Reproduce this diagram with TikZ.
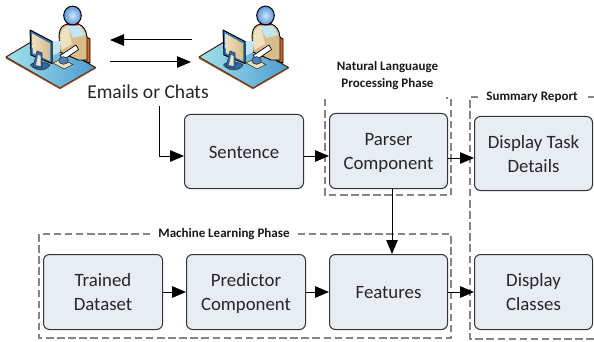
\documentclass[tikz,border=0pt]{standalone}
\usepackage{fontspec}
\setmainfont{Carlito}
\usetikzlibrary{arrows.meta}
\definecolor{boxfill}{HTML}{E8EDF4}
\definecolor{boxline}{HTML}{333333}
\definecolor{dashgray}{HTML}{858585}
\definecolor{deskA}{HTML}{A0E2EC}
\definecolor{deskB}{HTML}{4E9CCF}
\definecolor{tanA}{HTML}{EFE0C0}
\definecolor{tanB}{HTML}{D8BC8A}
\definecolor{headA}{HTML}{CFE5F8}
\definecolor{headB}{HTML}{5C96D8}
\definecolor{sideor}{HTML}{D4682C}
\definecolor{skyb}{HTML}{BFE6F2}
\definecolor{monb}{HTML}{2E6AA8}
\newcommand\boxlines[1]{\raisebox{-1.8pt}[\height][\depth]{\begin{tabular}{@{}c@{}}#1\end{tabular}}}
\tikzset{
  x=1pt,y=-1pt,
  flowbox/.style={draw=boxline,fill=boxfill,line width=1pt,rounded corners=6pt,
     font=\fontsize{18.8}{24}\selectfont,text=black!85,inner sep=0pt,anchor=north west},
  flow/.style={-{Triangle[length=14pt,width=11.5pt]},line width=1pt,draw=black},
  phase/.style={dashgray,line width=2.4pt,dash pattern=on 7.5pt off 3.6pt},
  phaselabel/.style={font=\bfseries\fontsize{13}{17}\selectfont,align=center,inner sep=0pt,text=black!90},
  ol/.style={draw=black,line width=0.9pt,line join=round},
  pics/worker/.style={code={
    % desk
    \path[draw=black!70!sideor,line width=1pt,line join=round,left color=deskA,right color=deskB]
       (6,57) -- (41,36) -- (95.5,67.5) -- (60,88) -- cycle;
    \draw[sideor!70!black,line width=1.1pt] (6,58) -- (60,88.6) -- (95.5,68);
    % chair back
    \path[ol,fill=sideor] (85,36) -- (90,39) -- (90,63) -- (84,61) -- cycle;
    % torso
    \path[ol,fill=tanB] (59,35) .. controls (60,28) and (62,25) .. (68,24) -- (78,24)
       .. controls (84,26) and (86,30) .. (87,37) -- (87,60) -- (78,60) -- (60,52) -- cycle;
    \path[fill=tanA] (60.5,36) .. controls (61,30) and (64,27) .. (68,26) -- (72,44) -- (61,50) -- cycle;
    \path[fill=skyb] (67,25.5) -- (79,25.5) .. controls (82,28) and (83,30) .. (85,35) -- (73,38) -- cycle;
    % collar and head
    \path[fill=red!75!black] (66.5,23) -- (79,23) -- (78,25.5) -- (68,25.5) -- cycle;
    \path[ol,line width=1pt,inner color=headA,outer color=headB] (72.5,15.5) circle[x radius=8.8,y radius=9.4];
    % keyboard and sleeve
    \path[draw=black!80,line width=0.6pt,fill=tanA] (53,63) -- (61,59) -- (73,64.5) -- (64,69) -- cycle;
    \path[fill=skyb] (52,41) -- (61,41) -- (60,52) -- (52,56) -- cycle;
    % arm
    \path[ol,line width=0.7pt,fill=white] (60,55.5) -- (76,45) -- (78.5,49.5) -- (64,59.5) -- cycle;
    \path[fill=monb!85!white,draw=black!80,line width=0.6pt] (63.5,60.5) circle[x radius=4.8,y radius=3.8];
    % monitor
    \path[ol,line width=1pt,fill=monb!70!deskB] (30,30) -- (52,41.5) -- (52,63.5) -- (31,55) -- cycle;
    \path[left color=tanA,right color=tanB] (32,33.5) -- (50,43.5) -- (50,61) -- (33,53) -- cycle;
    % stand
    \path[fill=monb,draw=black!80,line width=0.6pt] (30.5,65) .. controls (36,71.5) and (46,71.5) .. (50,65)
       .. controls (48,62) and (34,60) .. (30.5,65) -- cycle;
    \path[fill=monb,draw=black!80,line width=0.6pt] (37,51) -- (42,53) -- (42,68) -- (33,67) -- cycle;
    \path[fill=tanA] (38,55) -- (40.5,56) -- (40.5,66) -- (36,65) -- cycle;
  }}
}
\begin{document}
\begin{tikzpicture}
\useasboundingbox (0,0) rectangle (594,342);
\pic at (0,0) {worker};
\pic at (193,0) {worker};
\coordinate (msgLa) at (192,40);
\coordinate (msgLb) at (110,40);
\coordinate (msgRa) at (110,62);
\coordinate (msgRb) at (191,62);
\draw[flow] (msgLa) -- (msgLb);
\draw[flow] (msgRa) -- (msgRb);
\node[font=\fontsize{19.6}{20}\selectfont,inner sep=0pt,text=black!85] (mail) at (148,92) {Emails or Chats};

% dashed groups
\coordinate (nlpA) at (325,99);
\coordinate (nlpB) at (325,195);
\coordinate (nlpC) at (451,195);
\coordinate (nlpD) at (451,98);
\coordinate (nlpE) at (446,98);
\draw[phase] (nlpA) -- (nlpB) -- (nlpC) -- (nlpD) -- (nlpE);
\coordinate (sumA) at (478,97);
\coordinate (sumB) at (470,97);
\coordinate (sumC) at (470,339);
\coordinate (sumD) at (594,339);
\coordinate (sumE) at (588,97);
\coordinate (sumF) at (594,97);
\draw[phase] (sumA) -- (sumB) -- (sumC) -- (sumD);
\draw[phase] (sumE) -- (sumF);
\coordinate (mlA) at (150,234);
\coordinate (mlB) at (39,234);
\coordinate (mlC) at (39,338);
\coordinate (mlD) at (451,338);
\coordinate (mlE) at (451,234);
\coordinate (mlF) at (298,234);
\draw[phase] (mlA) -- (mlB) -- (mlC) -- (mlD) -- (mlE) -- (mlF);

\node[phaselabel] (nlpL) at (387.5,76) {Natural Languauge\\Processing Phase};
\node[phaselabel] (sumL) at (532,97) {Summary Report};
\node[phaselabel] (mlL) at (224,234) {Machine Learning Phase};

% boxes
\node[flowbox,minimum width=119pt,minimum height=74pt] (sent) at (184,114) {\boxlines{Sentence}};
\node[flowbox,minimum width=118pt,minimum height=75pt] (parser) at (329,113) {\boxlines{Parser\\Component}};
\node[flowbox,minimum width=118pt,minimum height=74pt] (task) at (474,116) {\boxlines{Display Task\\Details}};
\node[flowbox,minimum width=119pt,minimum height=75pt] (train) at (43,254) {\boxlines{Trained\\Dataset}};
\node[flowbox,minimum width=119pt,minimum height=75pt] (pred) at (186,254) {\boxlines{Predictor\\Component}};
\node[flowbox,minimum width=118pt,minimum height=75pt] (feat) at (329,254) {\boxlines{Features}};
\node[flowbox,minimum width=118pt,minimum height=75pt] (cls) at (474,254) {\boxlines{Display\\Classes}};

% connectors
\coordinate (mailFoot) at (159,106);
\coordinate (mailBend) at (159,156);
\draw[flow] (mailFoot) -- (mailBend) -- (sent.west |- mailBend);
\draw[flow] (sent.east |- 0,156) -- (parser.west |- 0,156);
\draw[flow] (parser.east |- 0,158) -- (task.west |- 0,158);
\draw[flow] (parser.south -| 392,0) -- (feat.north -| 392,0);
\draw[flow] (train.east) -- (pred.west);
\draw[flow] (pred.east) -- (feat.west);
\draw[flow] (feat.east |- 0,292) -- (cls.west |- 0,292);
\end{tikzpicture}
\end{document}
